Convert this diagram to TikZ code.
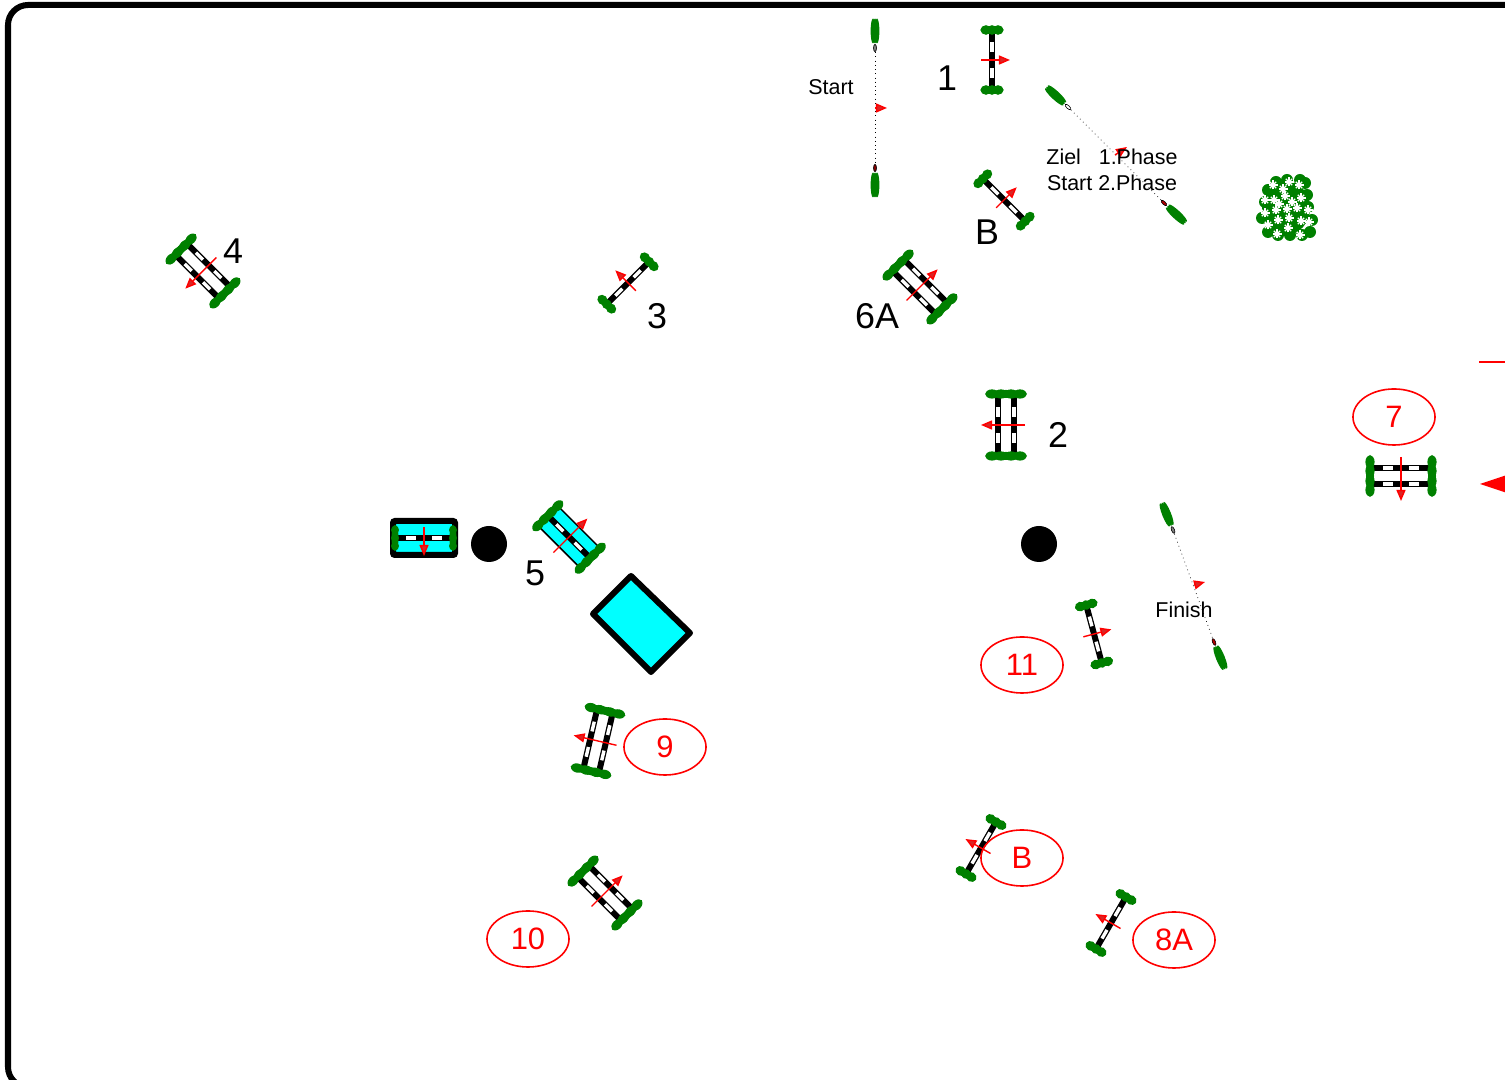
\documentclass[tikz,border=0pt]{standalone}
\usepackage{fontspec}
\setmainfont{Liberation Sans}
\usetikzlibrary{arrows.meta,shapes.geometric}
\definecolor{wingcol}{RGB}{0,128,0}
\definecolor{watercol}{RGB}{0,255,255}
\tikzset{
  barline/.style={black,line width=0.06cm},
  jumparrow/.style={red,line width=0.014cm,-{Triangle[length=0.11cm,width=0.09cm,fill=red!70!gray]}},
  gateline/.style={black,line width=0.007cm,densely dotted},
  bignum/.style={font=\fontsize{10.2}{12}\selectfont,inner sep=0pt},
  smalltext/.style={font=\fontsize{6.1}{7.4}\selectfont,inner sep=0pt,align=center},
  rednum/.style={ellipse,draw=red,text=red,line width=0.016cm,minimum width=0.82cm,minimum height=0.56cm,inner sep=0pt,font=\fontsize{8.8}{10}\selectfont},
}
\newcommand{\jumpbar}[1]{
  \draw[barline] (#1,-28) -- (#1,28);
  \fill[white] (#1-1.7,-18) rectangle (#1+1.7,-8);
  \fill[white] (#1-1.7,8) rectangle (#1+1.7,18);
}
\newcommand{\shortwing}{
  \foreach \wy in {-30,30} {
    \fill[wingcol] (0,\wy) ellipse [x radius=11.5,y radius=3.8];
    \foreach \wx in {-6,0,6}
      \fill[wingcol] (\wx,\wy) ellipse [x radius=5.5,y radius=4.8];
  }
}
\newcommand{\longwing}[1]{
  \foreach \wy in {-#1,#1} {
    \fill[wingcol] (0,\wy) ellipse [x radius=21,y radius=4];
    \foreach \wx in {-14,-5,5,14}
      \fill[wingcol] (\wx,\wy) ellipse [x radius=6.5,y radius=4.6];
  }
}
\tikzset{
  singlejump/.pic={
    \jumpbar{0}
    \shortwing
    \draw[jumparrow] (-11,0) -- (18,0);
  },
  doublejump/.pic={
    \jumpbar{-8} \jumpbar{8}
    \longwing{31}
    \draw[jumparrow] (-19,0) -- (25,0);
  },
  waterjump/.pic={
    \fill[watercol,draw=black,line width=0.015cm] (-14,-28) rectangle (14,28);
    \jumpbar{0}
    \longwing{30}
    \draw[jumparrow] (-22,0) -- (26,0);
  },
  waterbox/.pic={
    \fill[watercol,draw=black,line width=0.06cm,rounded corners=0.02cm] (-17,-31) rectangle (17,31);
    \jumpbar{0}
    \foreach \wy in {-29,29} {
      \fill[wingcol] (0,\wy) ellipse [x radius=13,y radius=3.5];
      \foreach \wx in {-8,0,8}
        \fill[wingcol] (\wx,\wy) ellipse [x radius=4.5,y radius=4];
    }
    \draw[jumparrow] (-11,0) -- (18,0);
  },
  gateend/.pic={
    \fill[pic actions] (0,0) ellipse [x radius=1.5,y radius=3.6];
    \draw[black,line width=0.006cm] (0,0) ellipse [x radius=1.5,y radius=3.6];
    \foreach \fx in {-2,0,2}
      \fill[wingcol] (\fx,-17) ellipse [x radius=2.4,y radius=12.5];
  },
}
\begin{document}
\begin{tikzpicture}[x=0.01cm,y=-0.01cm]
\useasboundingbox (0,0) rectangle (1505,1080);
\clip (0,0) rectangle (1505,1080);
% arena
\draw[black,line width=0.06cm,rounded corners=0.2cm] (8,5) rectangle (1700,1087);
% start
\coordinate (starttop) at (875,48);
\coordinate (startbot) at (875,168);
\draw[gateline] (starttop) -- (startbot);
\pic[fill=gray] at (starttop) {gateend};
\pic[fill=red!50!black,rotate=180] at (startbot) {gateend};
\draw[jumparrow] (875,108) -- (887,108);
\node[smalltext] (starttext) at (831,87) {Start};
% phase change
\coordinate (phasetop) at (1068,107);
\coordinate (phasebot) at (1164,203);
\draw[gateline] (phasetop) -- (phasebot);
\pic[fill=white,rotate=47] at (phasetop) {gateend};
\pic[fill=red!70!black,rotate=227] at (phasebot) {gateend};
\draw[jumparrow] (1115,155) -- (1127,147);
\node[smalltext] (phasetext) at (1112,170) {Ziel\ \ \ 1.Phase\\Start 2.Phase};
% finish
\coordinate (fintop) at (1173,530);
\coordinate (finbot) at (1214,642);
\draw[gateline] (fintop) -- (finbot);
\pic[fill=gray,rotate=22] at (fintop) {gateend};
\pic[fill=red!70!black,rotate=202] at (finbot) {gateend};
\draw[jumparrow] (1194,585) -- (1205,582);
\node[smalltext] (fintext) at (1184,610) {Finish};
% jumps
\pic at (992,60) {singlejump};
\pic[rotate=45] at (1004,200) {singlejump};
\pic[rotate=45] at (920,287) {doublejump};
\pic[rotate=225] at (203,271) {doublejump};
\pic[rotate=135] at (628,283) {singlejump};
\pic[rotate=180] at (1006,425) {doublejump};
\pic[rotate=270] at (1401,476) {doublejump};
\pic[rotate=270] at (424,538) {waterbox};
\pic[rotate=45] at (569,537) {waterjump};
\pic[rotate=167] at (598,741) {doublejump};
\pic[rotate=45] at (605,893) {doublejump};
\pic[rotate=150] at (981,848) {singlejump};
\pic[rotate=150] at (1111,923) {singlejump};
\pic[rotate=15] at (1094,634) {singlejump};
% water and posts
\fill[watercol,draw=black,line width=0.06cm,line join=round] (631,576) -- (690,633) -- (651,672) -- (593,614) -- cycle;
\fill[black] (489,544) circle [radius=18];
\fill[black] (1039,544) circle [radius=18];
% bush
\fill[wingcol] (1286,208) ellipse [x radius=24,y radius=27];
\foreach \bx/\by in {1276/182,1287/180,1300/180,1305/183,1268/190,1307/195,1265/202,1308/207,1262/218,1312/220,1268/232,1310/232,1278/235,1290/235,1302/235}
  \fill[wingcol] (\bx,\by) circle [radius=6];
\foreach \bx/\by in {1273/185,1289/182,1299/185,1283/189,1265/200,1274/200,1285/196,1301/198,1279/204,1292/202,1308/210,1265/213,1276/210,1287/209,1297/208,1278/220,1289/218,1301/221,1309/222,1268/225,1288/228,1277/234,1300/235}
  \foreach \ba in {0,45,90,135}
    \draw[white,line width=0.012cm] (\bx,\by) ++(\ba:4.5) -- ++(\ba+180:9);
% labels
\node[bignum] (lab1) at (947,78) {1};
\node[bignum] (labB) at (987,232) {B};
\node[bignum] (lab6A) at (877,316) {6A};
\node[bignum] (lab4) at (233,251) {4};
\node[bignum] (lab3) at (657,316) {3};
\node[bignum] (lab2) at (1058,435) {2};
\node[bignum] (lab5) at (535,573) {5};
\node[rednum] (red7) at (1394,417) {7};
\node[rednum] (red9) at (665,747) {9};
\node[rednum] (red11) at (1022,665) {11};
\node[rednum] (redB) at (1022,858) {B};
\node[rednum] (red10) at (528,939) {10};
\node[rednum] (red8A) at (1174,940) {8A};
% direction of the second phase
\draw[red,line width=0.016cm] (1479,362) -- (1505,362);
\fill[red] (1480,484) -- (1510,474) -- (1510,494) -- cycle;
\end{tikzpicture}
\end{document}
